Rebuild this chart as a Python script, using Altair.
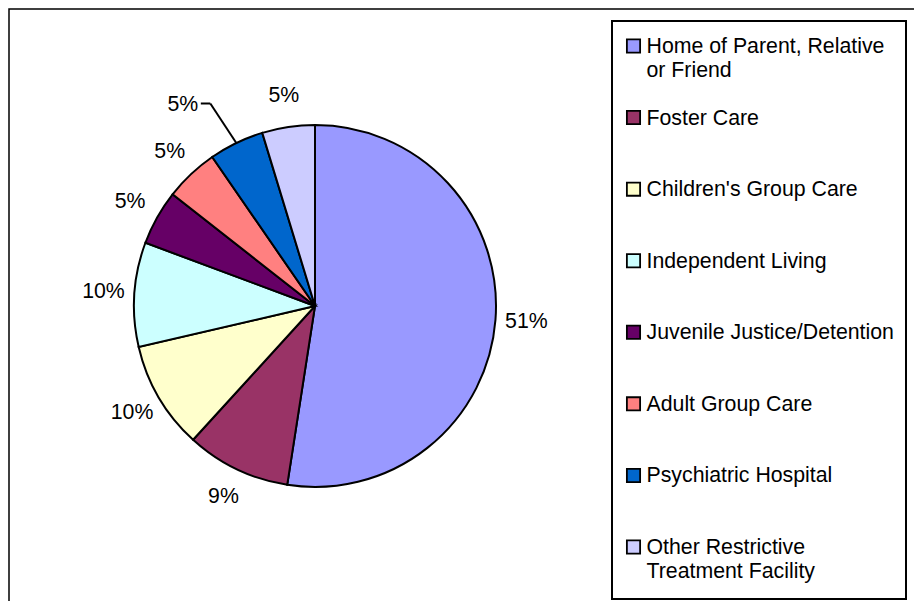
import altair as alt
import pandas as pd

# ---- data ----
categories = [
    "Home of Parent, Relative or Friend",
    "Foster Care",
    "Children's Group Care",
    "Independent Living",
    "Juvenile Justice/Detention",
    "Adult Group Care",
    "Psychiatric Hospital",
    "Other Restrictive Treatment Facility",
]
legend_text = [
    "Home of Parent, Relative\nor Friend",
    "Foster Care",
    "Children's Group Care",
    "Independent Living",
    "Juvenile Justice/Detention",
    "Adult Group Care",
    "Psychiatric Hospital",
    "Other Restrictive\nTreatment Facility",
]
values = [52.4, 9.3, 9.6, 9.3, 4.9, 4.8, 4.9, 4.7]
pct_labels = ["51%", "9%", "10%", "10%", "5%", "5%", "5%", "5%"]
colors = ["#9999FF", "#993366", "#FFFFCC", "#CCFFFF",
          "#660066", "#FF8080", "#0066CC", "#CCCCFF"]

df = pd.DataFrame({
    "cat": categories,
    "leg": legend_text,
    "value": values,
    "label": pct_labels,
    "idx": list(range(len(categories))),
})

W, H = 906, 593
CX, CY, R = 307, 298, 181
FONT = "Liberation Sans"
FS = 21.3
LEADER_IDX = 6

color_enc = alt.Color("cat:N", scale=alt.Scale(domain=categories, range=colors), legend=None)
theta_enc = alt.Theta("value:Q", stack=True)
order_enc = alt.Order("idx:Q")

base = alt.Chart(df)
one = alt.Chart(pd.DataFrame({"a": [0]}))

frame = one.mark_rect(fillOpacity=0, stroke="black", strokeWidth=1.5).encode(
    x=alt.value(1), x2=alt.value(W + 10), y=alt.value(1), y2=alt.value(H + 10)
)
legbox = one.mark_rect(fill="white", stroke="black", strokeWidth=2).encode(
    x=alt.value(604), x2=alt.value(898), y=alt.value(13), y2=alt.value(591)
)

pie = base.mark_arc(outerRadius=R, stroke="black", strokeWidth=2).encode(
    theta=theta_enc, order=order_enc, color=color_enc,
    x=alt.value(CX), y=alt.value(CY),
)

labels = base.transform_calculate(
    lbl=f"datum.idx == {LEADER_IDX} ? '' : datum.label"
).mark_text(radius=212, fontSize=FS, font=FONT, align="center", baseline="middle",
            color="black").encode(
    theta=theta_enc, order=order_enc, text="lbl:N",
    x=alt.value(CX), y=alt.value(CY),
)

lead_label = base.transform_calculate(
    lbl=f"datum.idx == {LEADER_IDX} ? datum.label : ''"
).mark_text(radius=212, fontSize=FS, font=FONT, align="center", baseline="middle",
            color="black", dx=-40, dy=-10).encode(
    theta=theta_enc, order=order_enc, text="lbl:N",
    x=alt.value(CX), y=alt.value(CY),
)

leader = base.transform_joinaggregate(total="sum(value)").transform_window(
    cum="sum(value)", sort=[alt.SortField("idx")], frame=[None, 0]
).transform_calculate(
    mid="2*PI*(datum.cum - datum.value/2)/datum.total"
).transform_filter(f"datum.idx == {LEADER_IDX}").transform_calculate(
    ax=f"{CX} + {R}*sin(datum.mid)",
    ay=f"{CY} - {R}*cos(datum.mid)",
).transform_calculate(
    ex="datum.ax - 26", ey="datum.ay - 39.5"
).transform_calculate(
    hx="datum.ex - 9.5"
)
rule1 = leader.mark_rule(color="black", strokeWidth=2).encode(
    x=alt.X("ax:Q", scale=None, axis=None), y=alt.Y("ay:Q", scale=None, axis=None),
    x2="ex:Q", y2="ey:Q",
)
rule2 = leader.mark_rule(color="black", strokeWidth=2).encode(
    x=alt.X("ex:Q", scale=None, axis=None), y=alt.Y("ey:Q", scale=None, axis=None),
    x2="hx:Q",
)

ypos = alt.Y("cat:N", scale=alt.Scale(type="point", domain=categories, range=[38, 539], padding=0),
             axis=None)
leg_sym = base.mark_square(size=175, stroke="black", strokeWidth=1.8, opacity=1).encode(
    x=alt.value(625.5), y=ypos, color=color_enc,
)
leg_text = base.mark_text(align="left", baseline="alphabetic", dy=7, fontSize=FS, font=FONT,
                          lineBreak="\n", lineHeight=24, color="black").encode(
    x=alt.value(638.5), y=ypos, text="leg:N",
)

chart = alt.layer(
    frame, legbox, pie, labels, lead_label, rule1, rule2, leg_sym, leg_text
).properties(
    width=W, height=H, autosize=alt.AutoSizeParams(type="none"), padding=0,
    background="white",
).configure_view(stroke=None)

chart.save("out.html", embed_options={"renderer": "svg", "actions": False})
